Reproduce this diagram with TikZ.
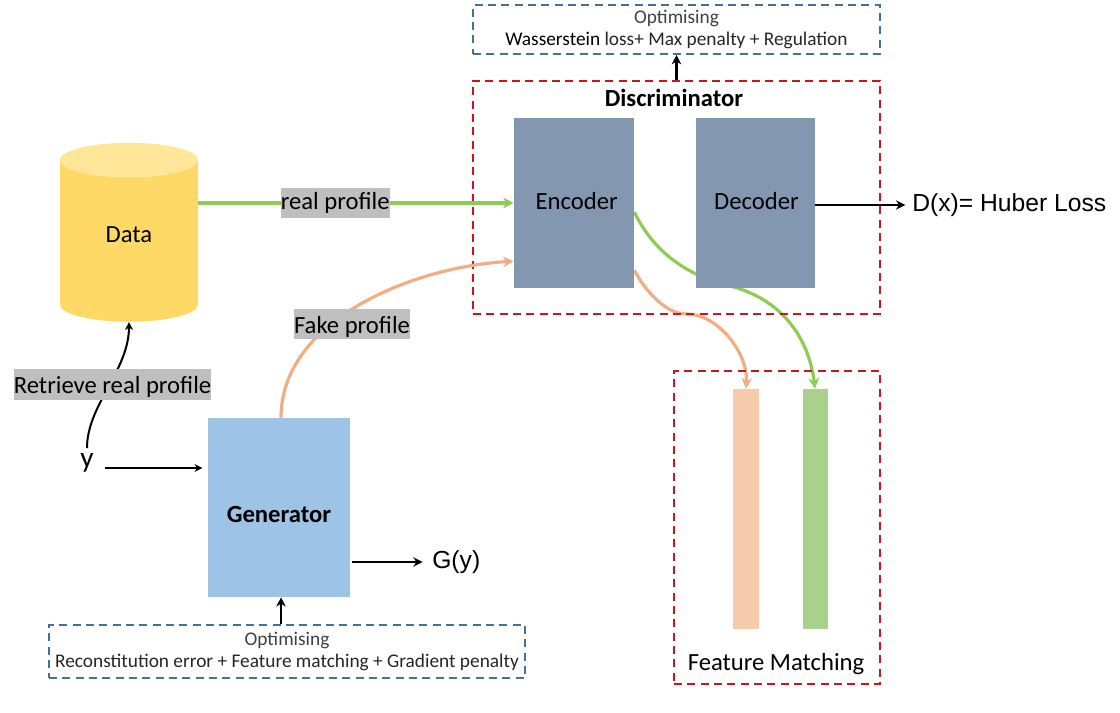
\documentclass[tikz,border=0pt]{standalone}
\usepackage{fontspec}
\setmainfont{Carlito}
\newfontfamily\arialfont{Liberation Sans}
\usetikzlibrary{arrows.meta,positioning,backgrounds,shapes.geometric,calc}
\definecolor{dred}{HTML}{C8161D}
\definecolor{dblue}{HTML}{41719C}
\definecolor{lgreen}{HTML}{8FCB55}
\definecolor{lorange}{HTML}{F0AE82}
\definecolor{slate}{HTML}{8497B0}
\definecolor{sky}{HTML}{9DC3E6}
\definecolor{gold}{HTML}{FFD966}
\definecolor{goldtop}{HTML}{FFE699}
\definecolor{barorange}{HTML}{F8CBAD}
\definecolor{bargreen}{HTML}{A9D18E}
\definecolor{tag}{HTML}{BFBFBF}
\tikzset{
  block/.style={inner sep=0pt,font=\fontsize{18.5}{22}\selectfont},
  redbox/.style={draw=dred,line width=1.6pt,dash pattern=on 6pt off 4pt,inner sep=0pt},
  bluebox/.style={draw=dblue,line width=1.5pt,dash pattern=on 6pt off 4pt,inner sep=0pt,align=center,font=\fontsize{14.5}{17}\selectfont},
  tagged/.style={fill=tag,inner sep=0pt,minimum height=23pt,font=\fontsize{18.5}{22}\selectfont},
  lowtag/.style={tagged,text height=16.5pt,text depth=3pt},
  ar/.style={-{Stealth[length=7pt,width=7pt]},line width=2.1pt,draw=black},
  thin ar/.style={-{Stealth[length=6pt,width=6pt]},line width=1.5pt,draw=black},
  gar/.style={-{Stealth[length=8pt,width=8pt]},line width=2.4pt,draw=lgreen},
  oar/.style={-{Stealth[length=8pt,width=8pt]},line width=2.4pt,draw=lorange},
}
\begin{document}
\begin{tikzpicture}[x=.75pt,y=-.75pt]
\useasboundingbox (0,0) rectangle (1120,713);
% dashed frames
\node[redbox,minimum width=305.25pt,minimum height=174.75pt] (disc) at (676.5,197.5) {};
\node[bluebox,minimum width=305.25pt,minimum height=36.75pt] (optd) at (676.5,29.5) {\textcolor{black!75}{Optimising}\\\textcolor{black}{Wasserstein} \textcolor{black!85}{loss+ Max penalty + Regulation}};
\node[redbox,minimum width=154.5pt,minimum height=234.75pt] (fm) at (777,527.5) {};
\node[bluebox,minimum width=357pt,minimum height=39.75pt] (optg) at (287,651.5) {\textcolor{black!75}{Optimising}\\\textcolor{black!85}{Reconstitution error + Feature matching + Gradient penalty}};
% blocks
\node[block,fill=slate,minimum width=90pt,minimum height=127.5pt] (enc) at (574,203) {\hspace*{4pt}\raisebox{-2pt}[6pt][0pt]{Encoder}};
\node[block,fill=slate,minimum width=89.25pt,minimum height=127.5pt,right=45.75pt of enc] (dec) {\hspace*{2pt}\raisebox{-2pt}[6pt][0pt]{Decoder}};
\node[block,fill=sky,minimum width=106.5pt,minimum height=134.25pt] (gen) at (279,507.5) {\raisebox{-8.25pt}[6pt][0pt]{\textbf{Generator}}};
\node[block,cylinder,shape border rotate=90,aspect=.74,cylinder uses custom fill,cylinder body fill=gold,cylinder end fill=goldtop,minimum width=103.5pt,minimum height=134.25pt] (data) at (129,241) {\raisebox{2.25pt}[6pt][0pt]{Data}};
\node[fill=barorange,minimum width=19.5pt,minimum height=180pt,inner sep=0pt] (baro) at (746,509) {};
\node[fill=bargreen,minimum width=18.75pt,minimum height=180pt,inner sep=0pt,right=32.25pt of baro] (barg) {};
% plain texts
\node[block,font=\fontsize{18.5}{22}\selectfont\bfseries] (disct) at (674,98) {Discriminator};
\node[block] (fmt) at (776,664) {Feature Matching};
\node[block,font=\fontsize{22}{24}\selectfont] (y) at (87,463) {y};
\node[block,font=\fontsize{18.5}{22}\selectfont\arialfont,anchor=west] (gy) at (432,562) {G(y)};
\node[block,font=\fontsize{18.5}{22}\selectfont\arialfont,anchor=west] (dx) at (912,205) {D(x)= Huber Loss};
% connectors
\begin{scope}[on background layer]
\coordinate (gstart) at ($(enc.east)+(0,9)$);
\coordinate (gmid) at (730,286);
\coordinate (ostart) at ($(enc.south east)+(0,-18)$);
\coordinate (omid) at (686,314);
\draw[gar] (gstart) to[out=-64,in=166,looseness=.95] (gmid) to[out=-14,in=97,looseness=1] (barg.north);
\draw[oar] (ostart) to[out=-62,in=180,looseness=.8] (omid) to[out=0,in=86,looseness=.9] (baro.north);
\end{scope}
\draw[gar] (data.east |- enc.west) -- node[tagged,pos=.434] (realt) {real profile} (enc.west);
\draw[oar] ([xshift=1.5pt]gen.north) to[out=90,in=183,looseness=.9] ($(enc.south west)+(0,-27)$);
\node[lowtag] (faket) at (352,324) {Fake profile};
\draw[thin ar,shorten <=4pt] (y.north) to[out=90,in=-90,looseness=.9] (data.south);
\node[lowtag] (rett) at (112.5,384.5) {Retrieve real profile};
\draw[thin ar,shorten <=8pt,shorten >=4pt] (y.east |- 0,468) -- (gen.west |- 0,468);
\draw[ar,shorten <=1pt,shorten >=7pt] (gen.east |- gy.west) -- (gy.west);
\draw[ar,shorten >=5pt] (dec.east |- dx.west) -- (dx.west);
\draw[ar] (disc.north) -- (optd.south);
\draw[ar] ([xshift=1.5pt]gen.south |- optg.north) -- ([xshift=1.5pt]gen.south);
\end{tikzpicture}
\end{document}
